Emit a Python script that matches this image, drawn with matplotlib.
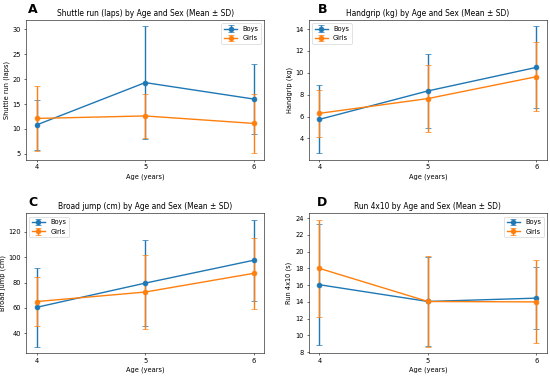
import matplotlib
matplotlib.use("Agg")
import matplotlib.pyplot as plt

# ─────────────────────────────────────────────
# DATA
# ─────────────────────────────────────────────

ages = [4, 5, 6]

shuttle_boys_mean  = [10.8, 19.3, 16.0]
shuttle_boys_sd    = [5.1, 11.3, 7.0]
shuttle_girls_mean = [12.1, 12.6, 11.1]
shuttle_girls_sd   = [6.6, 4.4, 6.0]

grip_boys_mean  = [5.75, 8.35, 10.5]
grip_boys_sd    = [3.1, 3.4, 3.75]
grip_girls_mean = [6.3, 7.65, 9.65]
grip_girls_sd   = [2.15, 3.05, 3.15]

jump_boys_mean  = [60.5, 79.5, 97.5]
jump_boys_sd    = [31.0, 33.7, 31.8]
jump_girls_mean = [65.0, 72.5, 87.2]
jump_girls_sd   = [19.5, 29.0, 27.8]

run_boys_mean  = [16.05, 14.05, 14.45]
run_boys_sd    = [7.25, 5.35, 3.7]
run_girls_mean = [18.0, 14.05, 14.0]
run_girls_sd   = [5.8, 5.4, 4.95]

panels = [
    ("A", "Shuttle run (laps)", "Shuttle run (laps)", "upper right",
     shuttle_boys_mean, shuttle_boys_sd, shuttle_girls_mean, shuttle_girls_sd),
    ("B", "Handgrip (kg)", "Handgrip (kg)", "upper left",
     grip_boys_mean, grip_boys_sd, grip_girls_mean, grip_girls_sd),
    ("C", "Broad jump (cm)", "Broad jump (cm)", "upper left",
     jump_boys_mean, jump_boys_sd, jump_girls_mean, jump_girls_sd),
    ("D", "Run 4x10", "Run 4x10 (s)", "upper right",
     run_boys_mean, run_boys_sd, run_girls_mean, run_girls_sd),
]

# panel letter positions (figure fraction)
letter_pos = [(0.051, 0.966), (0.578, 0.966), (0.051, 0.455), (0.577, 0.455)]

# ─────────────────────────────────────────────
# PLOT
# ─────────────────────────────────────────────

fig, axes = plt.subplots(2, 2, figsize=(11, 7.56), dpi=50)
fig.subplots_adjust(left=0.047, right=0.995, top=0.947, bottom=0.066,
                    wspace=0.185, hspace=0.386)

for ax, (letter, name, ylabel, loc, bm, bs, gm, gs), (lx, ly) in zip(
        axes.flat, panels, letter_pos):
    ax.errorbar(ages, bm, yerr=bs, marker="o", ms=7, lw=2, capsize=5,
                label="Boys", color="#1f77b4")
    ax.errorbar(ages, gm, yerr=gs, marker="o", ms=7, lw=2, capsize=5,
                label="Girls", color="#ff7f0e")
    ax.set_title(f"{name} by Age and Sex (Mean ± SD)", fontsize=10.8)
    ax.set_xlabel("Age (years)", fontsize=9.5)
    ax.set_ylabel(ylabel, fontsize=9.5)
    ax.set_xticks(ages)
    ax.tick_params(labelsize=9.5)
    ax.legend(loc=loc, fontsize=9.5)
    fig.text(lx, ly, letter, fontsize=18, fontweight="bold",
             ha="left", va="baseline")

fig.savefig("out.png", dpi=50)
